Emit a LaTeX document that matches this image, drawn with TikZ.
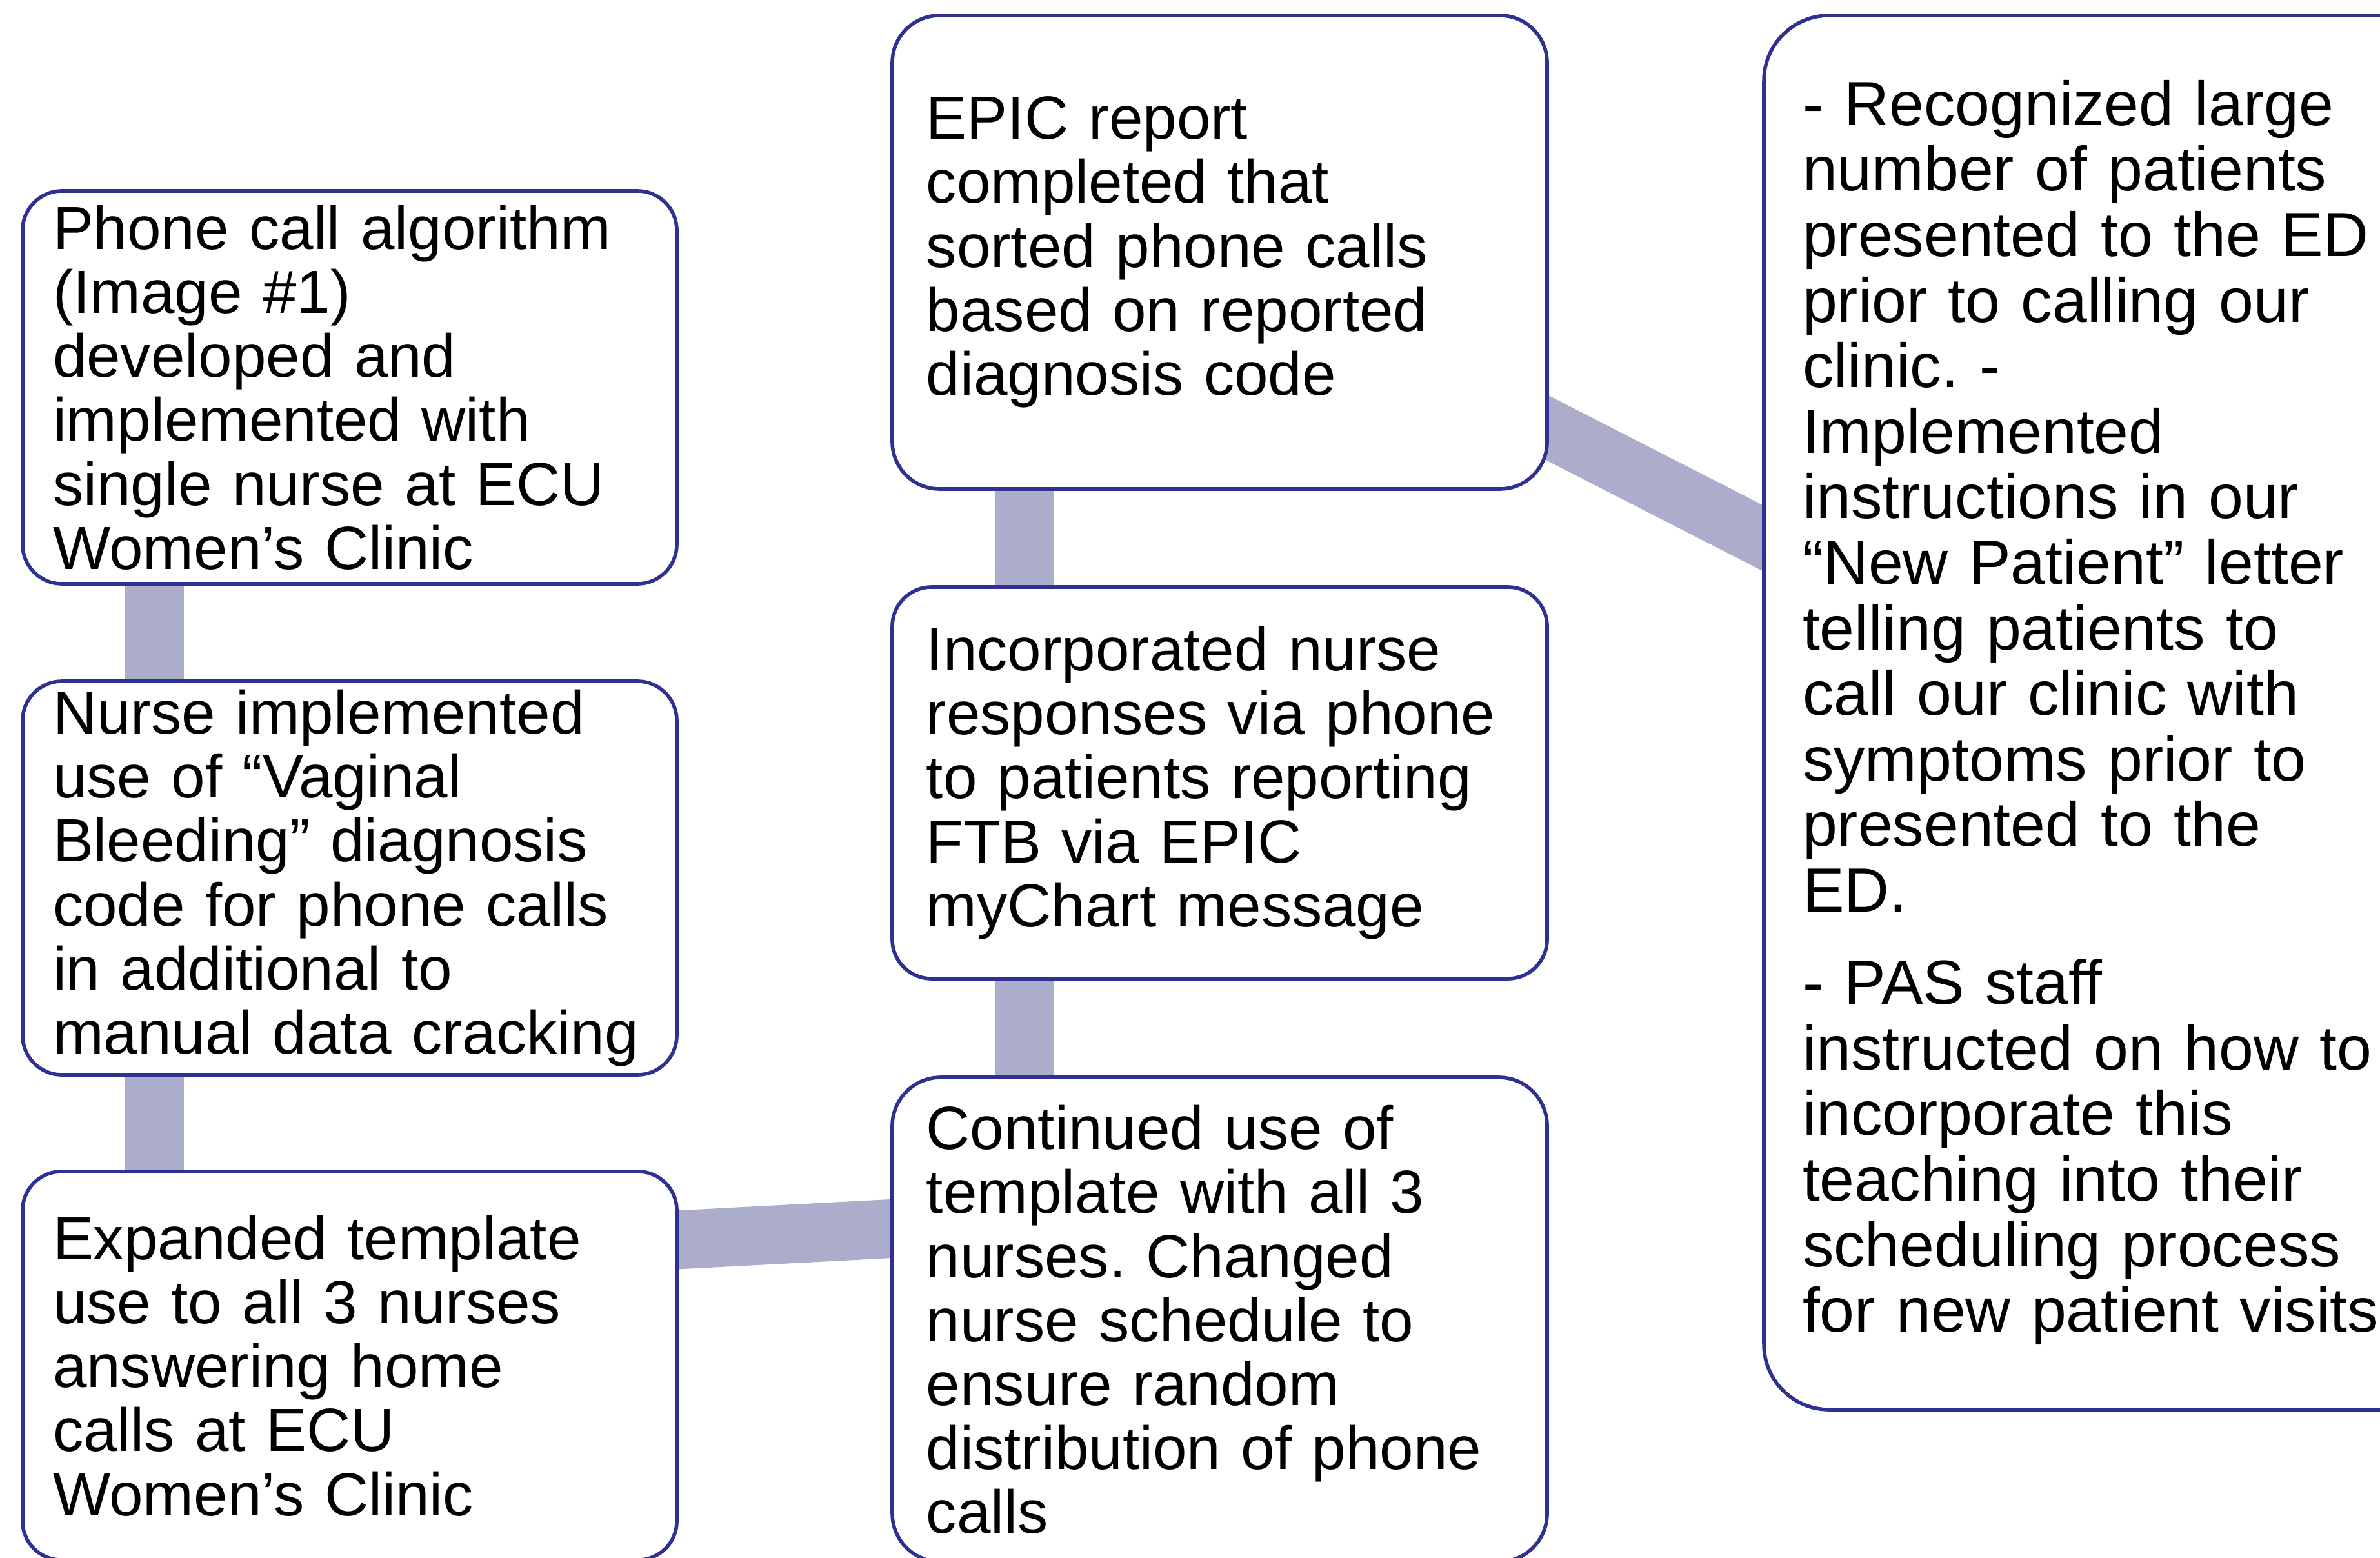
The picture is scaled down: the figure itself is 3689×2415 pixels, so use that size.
\documentclass[tikz,border=0pt]{standalone}
\usepackage{fontspec}
\setmainfont{Liberation Sans}
\usetikzlibrary{backgrounds}
\definecolor{boxedge}{RGB}{46,49,146}
\definecolor{linkfill}{RGB}{172,173,203}

\begin{document}
\frenchspacing
\hyphenpenalty=10000
\begin{tikzpicture}[x=0.25pt,y=0.25pt,yscale=-1,xscale=1,
  box/.style={draw=boxedge,line width=1.4pt,fill=white,anchor=north west,outer sep=0pt,
    inner xsep=11.75pt,inner ysep=2pt,text width=230pt,align=left,
    font=\fontsize{23.6}{24.8}\selectfont},
  midbox/.style={box,inner xsep=13.2pt,text width=227.35pt},
  link/.style={draw=linkfill,line width=22.75pt}]
\useasboundingbox (0,0) rectangle (3689,2415);

%Shape: Rounded Rect, left column
\draw (35,296) node [box,minimum height=152.25pt,rounded corners=15.25pt] (phone)
  {Phone call algorithm\\(Image \#1)\\developed and\\implemented with\\single nurse at ECU\\Women’s Clinic};
\draw (35,1056) node [box,minimum height=152.5pt,rounded corners=15.25pt] (vaginal)
  {Nurse implemented\\use of “Vaginal\\Bleeding” diagnosis\\code for phone calls\\in additional to\\manual data cracking};
\draw (35,1816) node [box,minimum height=150.5pt,rounded corners=15pt] (expanded)
  {Expanded template\\use to all 3 nurses\\answering home\\calls at ECU\\Women’s Clinic};

%Shape: Rounded Rect, middle column
\draw (1383,24) node [midbox,minimum height=183.5pt,rounded corners=18.3pt] (epic)
  {EPIC report\\completed that\\sorted phone calls\\based on reported\\diagnosis code};
\draw (1383,910) node [midbox,minimum height=151.75pt,rounded corners=15.2pt] (incorp)
  {Incorporated nurse\\responses via phone\\to patients reporting\\FTB via EPIC\\myChart message};
\draw (1383,1670) node [midbox,minimum height=187.75pt,rounded corners=18.75pt] (continued)
  {Continued use of\\template with all 3\\nurses. Changed\\nurse schedule to\\ensure random\\distribution of phone\\calls};

%Shape: Rounded Rect, right column
\draw (2734,24) node [box,minimum height=540.25pt,rounded corners=25.3pt,
    inner xsep=15pt,text width=235pt,font=\fontsize{24.2}{25.4}\selectfont] (recog)
  {- Recognized large\\number of patients\\presented to the ED\\prior to calling our\\clinic. -\\Implemented\\instructions in our\\“New Patient” letter\\telling patients to\\call our clinic with\\symptoms prior to\\presented to the\\ED.\\[10.4pt]- PAS staff\\instructed on how to\\incorporate this\\teaching into their\\scheduling process\\for new patient visits};

\begin{pgfonlayer}{background}
%Straight Lines
\draw [link] ([xshift=51pt]phone.south west) -- ([xshift=51pt]vaginal.north west);
\draw [link] ([xshift=51pt]vaginal.south west) -- ([xshift=51pt]expanded.north west);
\draw [link,shorten <=-20pt,shorten >=-20pt] ([yshift=26.5pt]expanded.north east) -- ([yshift=58.6pt]continued.north west);
\draw [link] ([xshift=51pt]continued.north west) -- ([xshift=51pt]incorp.south west);
\draw [link] ([xshift=51pt]incorp.north west) -- ([xshift=51pt]epic.south west);
\draw [link,shorten <=-20pt,shorten >=-20pt] ([yshift=159.75pt]epic.north east) -- ([yshift=202.75pt]recog.north west);
\end{pgfonlayer}

\end{tikzpicture}
\end{document}
